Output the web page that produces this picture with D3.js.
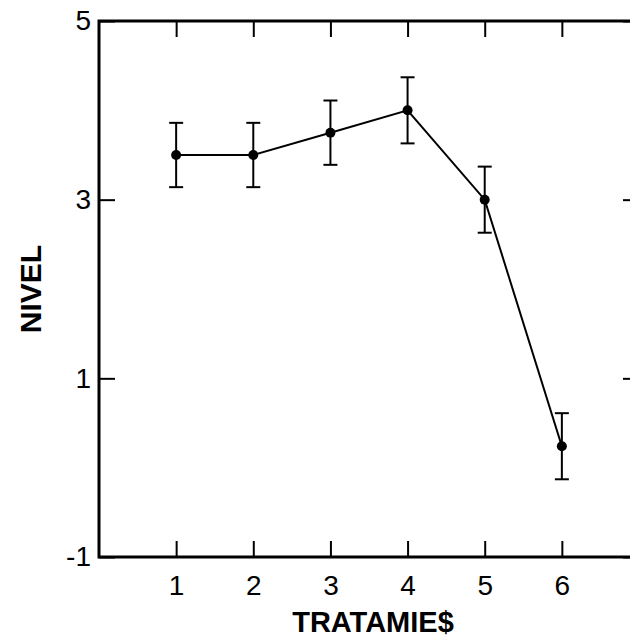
<!DOCTYPE html>
<html>
<head>
<meta charset="utf-8">
<script src="https://cdn.jsdelivr.net/npm/d3@7"></script>
<style>
html,body{margin:0;padding:0;background:#fff;overflow:hidden;}
svg{display:block;}
</style>
</head>
<body>
<script>
const categories = [1, 2, 3, 4, 5, 6];
const nivel = [3.5, 3.5, 3.75, 4.0, 3.0, 0.24];
const errors = [0.36, 0.36, 0.36, 0.37, 0.37, 0.37];
const yTicks = [-1, 1, 3, 5];
const xTicks = [1, 2, 3, 4, 5, 6];

const W = 630, H = 644;
const svg = d3.select("body").append("svg").attr("width", W).attr("height", H);

const x = d3.scaleLinear().domain([0, 7]).range([99, 639]);
const y = d3.scaleLinear().domain([-1, 5]).range([557, 21]);

const font = "'Liberation Sans', Arial, Helvetica, sans-serif";
const fmt = d => String(d);

// frame
svg.append("rect")
  .attr("x", x(0)).attr("y", y(5))
  .attr("width", x(7) - x(0)).attr("height", y(-1) - y(5))
  .attr("fill", "none").attr("stroke", "#000").attr("stroke-width", 3);

// axes with inward ticks
const tl = 16;
const gBottom = svg.append("g").attr("transform", `translate(0,${y(-1)})`)
  .call(d3.axisBottom(x).tickValues(xTicks).tickSizeInner(-tl).tickSizeOuter(0).tickPadding(18).tickFormat(fmt));
const gTop = svg.append("g").attr("transform", `translate(0,${y(5)})`)
  .call(d3.axisTop(x).tickValues(xTicks).tickSizeInner(-tl).tickSizeOuter(0).tickFormat(""));
const gLeft = svg.append("g").attr("transform", `translate(${x(0)},0)`)
  .call(d3.axisLeft(y).tickValues(yTicks).tickSizeInner(-tl).tickSizeOuter(0).tickPadding(8).tickFormat(fmt));
const gRight = svg.append("g").attr("transform", `translate(${x(7)},0)`)
  .call(d3.axisRight(y).tickValues(yTicks).tickSizeInner(-tl).tickSizeOuter(0).tickFormat(""));

[gBottom, gTop, gLeft, gRight].forEach(g => {
  g.select(".domain").remove();
  g.attr("font-size", 28).attr("font-family", font);
  g.selectAll(".tick line").attr("stroke", "#000").attr("stroke-width", 2);
  g.selectAll(".tick text").attr("fill", "#000").attr("font-family", font).attr("font-size", 28);
});

// axis titles
svg.append("text")
  .attr("x", 373).attr("y", 632)
  .attr("text-anchor", "middle")
  .attr("font-family", font).attr("font-size", 29).attr("font-weight", "bold")
  .text("TRATAMIE$");
svg.append("text")
  .attr("transform", `translate(41,${y(2)}) rotate(-90)`)
  .attr("text-anchor", "middle")
  .attr("font-family", font).attr("font-size", 30).attr("font-weight", "bold")
  .text("NIVEL");

const data = categories.map((c, i) => ({c, v: nivel[i], e: errors[i]}));

// line
svg.append("path").datum(data)
  .attr("fill", "none").attr("stroke", "#000").attr("stroke-width", 2)
  .attr("d", d3.line().x(d => x(d.c)).y(d => y(d.v)));

// error bars
const cap = 7;
const eb = svg.append("g").attr("stroke", "#000").attr("stroke-width", 2);
eb.selectAll(".v").data(data).join("line")
  .attr("x1", d => x(d.c)).attr("x2", d => x(d.c))
  .attr("y1", d => y(d.v + d.e)).attr("y2", d => y(d.v - d.e));
eb.selectAll(".t").data(data).join("line")
  .attr("x1", d => x(d.c) - cap).attr("x2", d => x(d.c) + cap)
  .attr("y1", d => y(d.v + d.e)).attr("y2", d => y(d.v + d.e));
eb.selectAll(".b").data(data).join("line")
  .attr("x1", d => x(d.c) - cap).attr("x2", d => x(d.c) + cap)
  .attr("y1", d => y(d.v - d.e)).attr("y2", d => y(d.v - d.e));

// points
svg.append("g").selectAll("circle").data(data).join("circle")
  .attr("cx", d => x(d.c)).attr("cy", d => y(d.v)).attr("r", 5).attr("fill", "#000");
</script>
</body>
</html>
